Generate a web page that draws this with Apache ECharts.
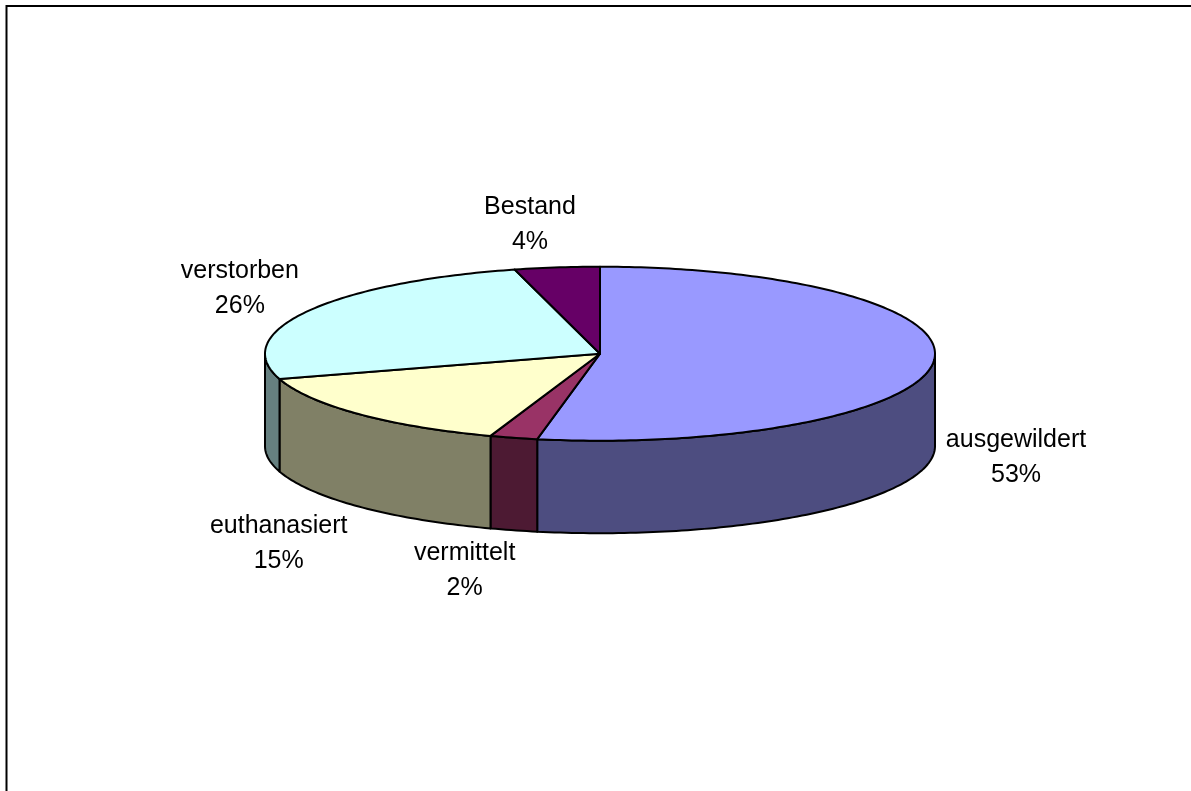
<!DOCTYPE html>
<html>
<head>
<meta charset="utf-8">
<style>html,body{margin:0;padding:0;background:#fff;overflow:hidden}#c{width:1191px;height:791px}</style>
<script src="https://cdn.jsdelivr.net/npm/echarts@6/dist/echarts.min.js"></script>
</head>
<body>
<div id="c"></div>
<script>
// Data (percent of the whole)
var categories = ['ausgewildert', 'vermittelt', 'euthanasiert', 'verstorben', 'Bestand'];
var shares = [53.0, 2.3, 15.0, 25.6, 4.1];
var topColors = ['#9999FF', '#993366', '#FFFFCC', '#CCFFFF', '#660066'];
var wallColors = ['#4D4D80', '#4D1A33', '#808066', '#668080', '#330033'];

// Layout of the tilted disc
var CX = 600, CY = 353.7, RX = 335, RY = 87, DEPTH = 92.5;
var labelNudges = [[82.5, 95.5], [-49, 133], [-80, 130], [-67.6, -22.5], [-27, -42.5]];

var total = shares.reduce(function (a, b) { return a + b; }, 0);
function startDeg(i) {
  var s = 0;
  for (var k = 0; k < i; k++) s += shares[k];
  return s / total * 360;
}
function rim(deg, drop) {
  var r = deg * Math.PI / 180;
  return [CX + RX * Math.sin(r), CY - RY * Math.cos(r) + (drop || 0)];
}
function arc(a, b, drop) {
  var pts = [], n = Math.max(2, Math.ceil(Math.abs(b - a)));
  for (var i = 0; i <= n; i++) pts.push(rim(a + (b - a) * i / n, drop));
  return pts;
}
var lineStyle = { stroke: '#000', lineWidth: 2, lineJoin: 'round' };

function renderWall(params, api) {
  var i = params.dataIndex;
  var a = Math.max(startDeg(i), 90), b = Math.min(startDeg(i) + api.value(0) / total * 360, 270);
  if (b <= a) return { type: 'group', children: [] };
  var pts = arc(a, b, 0).concat(arc(b, a, DEPTH));
  return {
    type: 'polygon',
    shape: { points: pts },
    style: Object.assign({ fill: wallColors[i] }, lineStyle)
  };
}
function renderTop(params, api) {
  var i = params.dataIndex;
  var a = startDeg(i), b = a + api.value(0) / total * 360;
  var pts = [[CX, CY]].concat(arc(a, b, 0));
  return {
    type: 'polygon',
    shape: { points: pts },
    style: Object.assign({ fill: topColors[i] }, lineStyle)
  };
}
function renderLabel(params, api) {
  var i = params.dataIndex;
  var v = api.value(0);
  var p = rim(startDeg(i) + v / total * 180, 0);
  return {
    type: 'text',
    style: {
      text: categories[i] + '\n' + Math.round(v) + '%',
      x: p[0] + labelNudges[i][0],
      y: p[1] + labelNudges[i][1],
      fontFamily: '"Liberation Sans", Arial, sans-serif',
      fontSize: 25,
      lineHeight: 35,
      fill: '#000',
      align: 'center',
      verticalAlign: 'middle'
    }
  };
}

var chart = echarts.init(document.getElementById('c'), null, { renderer: 'canvas', width: 1191, height: 791 });
chart.setOption({
  animation: false,
  backgroundColor: '#fff',
  graphic: [
    { type: 'line', shape: { x1: 6, y1: 6, x2: 1191, y2: 6 }, style: { stroke: '#000', lineWidth: 2 } },
    { type: 'line', shape: { x1: 6.5, y1: 5, x2: 6.5, y2: 791 }, style: { stroke: '#000', lineWidth: 2 } }
  ],
  series: [
    { type: 'custom', coordinateSystem: 'none', silent: true, z: 2, data: shares, renderItem: renderWall },
    { type: 'custom', coordinateSystem: 'none', silent: true, z: 3, data: shares, renderItem: renderTop },
    { type: 'custom', coordinateSystem: 'none', silent: true, z: 4, data: shares, renderItem: renderLabel }
  ]
});
</script>
</body>
</html>
